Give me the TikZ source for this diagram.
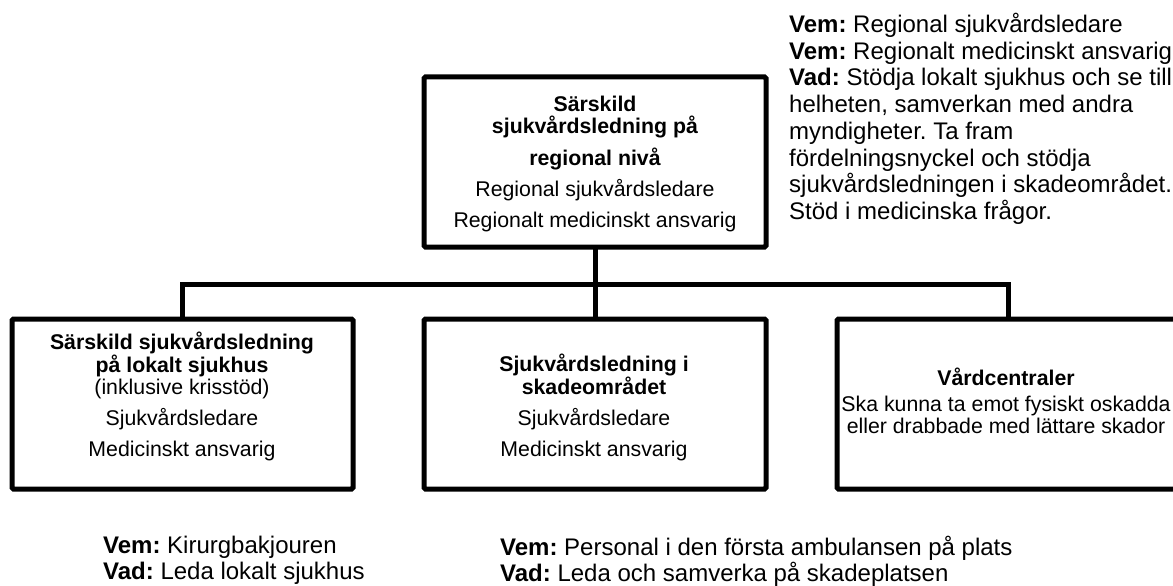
\documentclass[tikz,border=0pt]{standalone}
\usepackage{fontspec}
\setmainfont{Liberation Sans}
\newcommand\bxf{\fontsize{21.3pt}{22pt}\selectfont}
\newcommand\anf{\fontsize{24pt}{26.7pt}\selectfont}
\newcommand\anfb{\fontsize{24pt}{26pt}\selectfont}
\frenchspacing
\begin{document}
\begin{tikzpicture}[x=1pt,y=-1pt,
  orgbox/.style={draw=black, line width=5pt, rounded corners=1.5pt, minimum width=342pt, minimum height=170pt, inner sep=0pt, outer sep=0pt, anchor=north west},
  conn/.style={draw=black, line width=5pt},
  boxtext/.style={align=center, inner sep=0pt, anchor=north, font=\bxf},
  note/.style={align=left, inner sep=0pt, anchor=north west, font=\anf},
  lownote/.style={align=left, inner sep=0pt, anchor=north west, font=\anfb}]
\useasboundingbox (0,0) rectangle (1173,586);

% boxes
\node[orgbox] (top) at (424,77) {};
\node[orgbox, minimum width=341pt] (b1) at (12,319) {};
\node[orgbox] (b2) at (424,319) {};
\node[orgbox] (b3) at (837,319) {};

% connectors
\coordinate (bus) at ([yshift=-37pt]top.south);
\draw[conn] (top.south) -- (bus);
\draw[conn] (b1.north) |- (bus) -| (b3.north);
\draw[conn] (bus) -- (b2.north);

% box texts
\node[boxtext] (toptext) at (595,95.5) {\textbf{Särskild}\\\textbf{sjukvårdsledning på}\\[9pt]\textbf{regional nivå}\\[9pt]Regional sjukvårdsledare\\[9pt]Regionalt medicinskt ansvarig};
\node[boxtext] (b1text) at (182,331.5) {\textbf{Särskild sjukvårdsledning}\\\textbf{på lokalt sjukhus}\\(inklusive krisstöd)\\[9pt]Sjukvårdsledare\\[9pt]Medicinskt ansvarig};
\node[boxtext] (b2text) at (594,353.5) {\textbf{Sjukvårdsledning i}\\\textbf{skadeområdet}\\[9pt]Sjukvårdsledare\\[9pt]Medicinskt ansvarig};
\node[boxtext] (b3text) at (1006,368) {\textbf{Vårdcentraler}\\[4pt]Ska kunna ta emot fysiskt oskadda\\eller drabbade med lättare skador};

% annotations
\node[note] (noteregion) at (789,13) {\textbf{Vem:} Regional sjukvårdsledare\\\textbf{Vem:} Regionalt medicinskt ansvarig\\\textbf{Vad:} Stödja lokalt sjukhus och se till\\helheten, samverkan med andra\\myndigheter. Ta fram\\fördelningsnyckel och stödja\\sjukvårdsledningen i skadeområdet.\\Stöd i medicinska frågor.};
\node[lownote] (notelocal) at (103,536) {\textbf{Vem:} Kirurgbakjouren\\\textbf{Vad:} Leda lokalt sjukhus};
\node[lownote] (notefield) at (500,536) {\textbf{Vem:} Personal i den första ambulansen på plats\\\textbf{Vad:} Leda och samverka på skadeplatsen};
\end{tikzpicture}
\end{document}
